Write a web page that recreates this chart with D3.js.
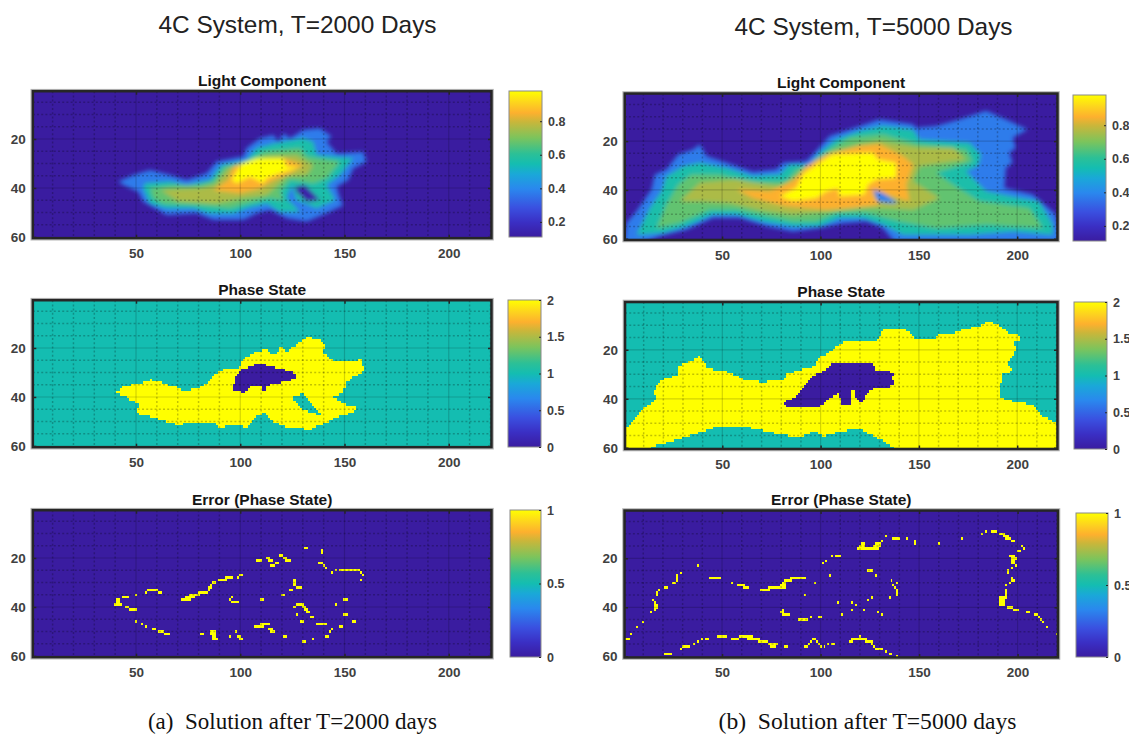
<!DOCTYPE html>
<html>
<head>
<meta charset="utf-8">
<script src="https://d3js.org/d3.v7.min.js"></script>
<style>
  html, body { margin: 0; padding: 0; background: #fff; overflow: hidden; }
  text { font-family: "Liberation Sans", Arial, sans-serif; }
  .tick text { font-size: 13.5px; font-weight: bold; fill: #404040; }
  .cb .tick text { font-size: 12.5px; }
  .tick line { stroke: #262626; stroke-width: 1.5; }
</style>
</head>
<body>
<div id="chart"></div>
<script>
// tick labels
const xTicks = [50, 100, 150, 200];
const yTicks = [20, 40, 60];
const lightTicks = [0.2, 0.4, 0.6, 0.8];
const phaseTicks = [0, 0.5, 1, 1.5, 2];
const errorTicks = [0, 0.5, 1];
const xMinor = [10, 20, 30, 40, 60, 70, 80, 90, 110, 120, 130, 140, 160, 170, 180, 190, 210, 220];
const yMinor = [5, 10, 15, 25, 30, 35, 45, 50, 55];

// parula-ish colormap (position, colour)
const cmapPos = [0, 0.1, 0.2, 0.33, 0.43, 0.5, 0.57, 0.68, 0.79, 0.85, 0.92, 1];
const cmapCol = ["#3a1ca0", "#3a2fc4", "#3a50e0", "#2a88ee", "#1aa8d8", "#14bdb1", "#2cc096", "#7cc45c", "#cab63a", "#fdb02e", "#fdd41e", "#ffff00"];

// Light component: nested contours in data units [col, row], value of each contour
const lightLevels = [0.37, 0.56, 0.67, 0.76, 0.85, 0.98];

const lightA = [
  [[41.5,37.4],[48.7,34.7],[56.7,32.7],[66.3,34.7],[74.3,36.7],[83.9,34],[88.7,29.2],[101.5,27.2],[103,23.8],[109.5,19.7],[115.9,18.4],[118.3,21.1],[120.7,17.7],[123.9,19.7],[130.2,16.3],[138.2,15.6],[143.8,19],[141.4,21.1],[146.2,25.9],[159,25.2],[160.6,29.3],[154.2,32],[151.8,36.7],[146.2,39.5],[147.8,44.2],[149.4,47],[141.4,50.3],[131.9,53.7],[122.3,52.4],[114.3,49],[107.9,50.3],[101.5,53],[93.5,53],[87.1,53],[79.1,50.3],[64.7,51],[53.5,45.6],[51.1,41.5],[43.9,38.8]],
  [[54.3,38.1],[66.3,37.4],[74.3,38.8],[85.5,36.7],[91.1,30.6],[103,28.6],[107.9,23.8],[115.9,21.8],[120.7,21.1],[130.2,19.7],[135,21.1],[136.6,26.5],[154.2,27.9],[147.8,34.7],[141.4,38.8],[145.4,44.9],[136.6,48.3],[127,44.9],[124.6,38.8],[122.3,44.2],[128.6,49.7],[119,49.7],[112.7,46.3],[103,48.3],[96.7,50.3],[85.5,50.3],[77.5,48.3],[64.7,48.3],[56.7,46.3],[53.5,40.1]],
  [[56.7,40.1],[69.5,38.8],[80.7,38.8],[87.1,37.4],[92.7,31.3],[104.7,29.2],[111.1,25.2],[128.6,23.8],[131.9,27.2],[147.8,29.3],[141.4,36],[135,38.1],[123.9,36.7],[119,41.5],[120.7,44.9],[114.3,44.2],[103,46.3],[95.1,48.3],[79.1,46.9],[63.1,46.3],[58.3,44.2]],
  [[62,40.8],[80.7,40.1],[87.9,38.8],[94.3,32],[104.7,30],[112.7,27.2],[127,26.5],[135,30.6],[131.9,34.7],[122.3,35.4],[112.7,42.9],[101.5,44.2],[88.7,46.3],[70,45.4]],
  [[87.1,40.8],[94.3,36.7],[96.7,31.3],[106.3,28.6],[120.7,27.9],[130.2,30.6],[123.9,34],[115.9,36.7],[109.5,40.1],[99.9,42.2]],
  [[95.9,36.7],[98.3,33.3],[100.7,30],[107.9,27.9],[120.7,27.9],[122.3,31.3],[128.6,31.3],[119,34],[112.7,36],[111,38.1],[104.7,35.4],[98.3,38.1]]
];
const lightANotch = [[126.3,39.5],[131,38.8],[138.2,44.9],[131.9,45.6],[127,41.5]];
const lightANotchValue = 0.13;

const lightB = [
  [[-1,62],[0.6,59.7],[1.4,53.5],[6.5,48.7],[14.1,39.8],[15.8,33.7],[21.7,31.6],[27.7,25.5],[35.3,23.4],[38.7,21.3],[42,26.1],[52.2,28.9],[65.7,32.6],[77.6,31.6],[81,28.9],[92.8,28.2],[97.9,24.1],[104.7,17.9],[114.8,15.2],[130,11.1],[147,13.1],[148.6,14.5],[158.8,13.8],[170.6,11.1],[184.2,7.6],[196,11.8],[205.3,15.2],[197.7,18.6],[199.4,22.7],[196,24.8],[197.7,28.9],[194.3,30.9],[193.5,39.2],[207.9,41.9],[219.7,50.1],[222,62],[138.5,62],[131.7,55.6],[123.3,52.9],[111.4,53.6],[99.6,55.6],[86,57],[72.5,54.9],[59,51.5],[45.4,51.5],[31.9,56.3],[18.4,59],[8.2,62]],
  [[6.5,58.3],[13.3,47.4],[19.2,40.5],[21.7,34.4],[30.2,30.3],[38.7,28.9],[52.2,31],[65.7,34.4],[79.3,33.7],[84.3,29.6],[94.5,29.6],[99.6,24.8],[108,19.3],[119.9,15.9],[131.7,13.8],[147,15.2],[150.3,19.3],[175.7,20.7],[181.6,25.5],[180,30.2],[174,32.3],[184.2,40.5],[201.1,43.3],[211.2,44.6],[218,54.2],[218,58.3],[197.7,57],[175.7,58.3],[141.9,58.3],[131.7,54.2],[121.6,51.5],[109.7,51.5],[99.6,54.9],[86,54.9],[70.8,52.9],[57.3,50.1],[45.4,50.1],[31.9,54.9],[20.1,57.6]],
  [[16.7,55.6],[21.7,46],[27.7,37.8],[34.4,33.7],[48.8,33.7],[65.7,37.1],[82.7,36.4],[87.7,31.6],[97.9,29.6],[104.7,23.4],[114.8,18.6],[131.7,17.2],[150.3,21.3],[174,23.4],[177.4,28.2],[158.8,33],[167.3,37.8],[180.8,44.6],[206.2,47.4],[213,55.6],[184.2,54.2],[158.8,55.6],[140.2,52.9],[123.3,49.4],[108,49.4],[97.9,52.9],[86,52.9],[69.1,50.1],[57.3,48.1],[43.7,48.1],[28.5,53.5]],
  [[28.5,44.6],[38.7,37.1],[57.3,35.7],[79.3,38.5],[87.7,34.4],[97.9,30.3],[104.7,24.8],[119.9,21.3],[130,20],[150.3,22.7],[167.3,22.7],[174,27.5],[150.3,30.3],[147,36.4],[160.5,43.3],[147,48.1],[133.4,47.4],[119.9,47.4],[106.3,48.7],[86,50.1],[69.1,48.1],[53.9,45.3],[38.7,44.6]],
  [[57.3,39.8],[74.2,40.5],[86,36.4],[92.8,30.3],[102.9,25.5],[119.9,22],[130,21.3],[141.9,26.1],[147,29.6],[143.6,37.8],[145.3,44.6],[133.4,42],[126.6,42],[130,46],[116.5,47.4],[102.9,48.1],[82.7,46.7],[65.7,43.3]],
  [[79.3,42.6],[87.7,39.2],[91.1,33.7],[99.6,28.9],[106.3,25.5],[126.6,24.8],[129.2,27.5],[138.5,28.9],[138.5,35],[128.3,35.7],[124.1,37.8],[122.4,41.9],[109.7,42.6],[108.9,39.2],[103,40.5],[97.9,43.3],[86,44.4]]
];
const lightBNotch = [[126.6,39.8],[131.7,41.2],[139.3,45.3],[135.1,45.3],[129.2,44.6]];
const lightBNotchValue = 0.38;

// Phase state regions, data units [col, row]
const phaseAYellow = [[39.9,38.2],[44.7,35.5],[51.9,34.4],[56.7,32.8],[61.5,33.8],[66.3,35.1],[71.1,36.5],[72.7,37.6],[79.1,36.5],[83.9,34.4],[88.7,30.3],[93.5,28.3],[99.8,28.3],[101.4,24.9],[106.2,21.9],[110.2,21.5],[112.6,19.7],[115.5,22.9],[117.4,22.2],[119.3,19.5],[122.2,21.5],[127.8,18.1],[131.8,15.6],[138.2,16.7],[141.7,19.7],[139,20.6],[139.8,22.2],[145.4,25.6],[158.2,24.9],[159.8,29.7],[154.2,31.7],[151,33.8],[149.4,38.5],[144.6,40.1],[151,43.3],[156.1,43.7],[155,46],[147.8,48],[138.2,51.4],[132.6,54.2],[130.2,52.8],[122.2,52.1],[115.8,50.1],[112.6,46.7],[107.8,47.4],[103,52.1],[95,51.4],[89.5,52.8],[87.9,50.1],[75.9,50.1],[71.1,51.4],[66.3,50.7],[59.9,48.7],[50.3,46.7],[51.9,42.6],[47.1,41.2],[44.7,39.6]];
const phaseAHole = [[124.9,40.1],[130.2,38.5],[139,47.4],[134.2,46.7],[128.6,44.6]];
const phaseADark = [[99.8,29.3],[107,27],[111.8,26.7],[117.4,28.3],[125.4,29.7],[126.7,32.4],[120.6,33.8],[112.6,35.5],[112.3,37.4],[110.7,37.2],[110.2,35.5],[104.6,35.8],[101.8,38.2],[96.3,37.4],[97.4,32.4]];

const phaseBYellow = [[0,61],[0.5,52.2],[4,50],[7.4,46.4],[10,43.7],[14,41.9],[16.7,39.6],[15.3,37.6],[17.5,34.1],[21,31.4],[27,30.8],[27.7,26.7],[33.6,24.6],[38.3,22.6],[40.4,24.6],[42.4,27.8],[50.5,28.4],[58,30.8],[60.7,32.1],[70,33.2],[81.8,32.1],[82.7,30],[91,28],[97,26.7],[98.7,23.3],[104.7,21.2],[108,18.5],[113,16.5],[129,16],[131.7,11.7],[143.6,11.7],[147.8,15.1],[158,15.5],[159.6,13.3],[169,13],[172.3,11.4],[180,10.6],[185,8.3],[191,10.3],[196,13],[200.3,13.7],[202,15.8],[198.6,17.1],[199.4,19.9],[197.7,23.3],[195.2,25.3],[197.7,28.7],[192.6,30],[191.8,34.8],[191,39.2],[199.4,41.6],[208,42.3],[213,47.1],[221,50.5],[221,61],[139.3,61],[135,58.6],[126.6,55.2],[120,52.2],[111.4,53.2],[101.3,55.2],[96,53.2],[89.4,55.9],[77.6,54.1],[67.4,52.5],[59.8,51.2],[48.8,51.2],[40.4,53.2],[33.6,55],[21.7,57.9],[14,59.5],[12,61]];
const phaseBHole = [];
const phaseBDark = [[81.3,41.6],[86.9,39.2],[91.1,35.5],[94.5,31.4],[103,28],[106.4,25.3],[114,25.3],[118.2,26],[126.6,25.3],[127.5,28],[138.2,29.4],[136,30.7],[138.2,34.8],[134.3,35.1],[125,36.2],[122.4,39.6],[120.7,42.3],[118.2,39.6],[117,36.2],[115.1,36.2],[115.6,42.3],[110.6,43],[109.7,37.6],[104.7,39.6],[99.6,43],[83.5,43.7]];

// Error cells as runs [first col, last col, row]
const errorA = [[40,43,39],[41,42,37],[41,42,38],[44,46,36],[45,46,40],[47,50,41],[50,50,35],[50,50,46],[53,53,47],[55,55,48],[58,59,49],[61,63,50],[64,66,51],[55,55,34],[56,60,33],[61,62,34],[81,82,51],[86,88,50],[86,88,51],[87,88,52],[87,89,53],[95,95,52],[98,98,50],[99,100,52],[100,101,53],
  [72,76,37],[74,78,36],[76,80,35],[80,84,34],[85,85,33],[85,86,32],[86,86,31],[87,88,30],[90,93,29],[93,95,28],[96,96,28],[99,99,28],[100,101,27],[95,95,37],[96,96,36],[96,99,38],[110,111,37],[107,111,48],[110,114,47],[114,115,49],[115,116,50],[121,122,52],
  [108,110,21],[113,114,20],[114,115,21],[115,116,23],[117,118,22],[119,120,19],[121,122,20],[122,124,21],[131,132,16],[139,139,17],[139,139,18],[138,139,22],[140,140,23],[141,141,24],[144,144,26],[146,146,25],[148,157,25],[158,158,26],[159,159,27],[158,158,29],
  [126,126,29],[126,126,30],[126,126,31],[124,125,33],[127,129,32],[120,121,35],[127,130,39],[126,126,40],[130,131,40],[131,132,41],[132,133,42],[134,135,44],[127,127,43],[129,130,46],[137,138,47],[139,141,47],[144,144,49],[143,143,50],[141,142,52],[135,135,53],[130,131,54],[146,146,39],[150,151,37],[150,151,43],[154,155,46],[148,149,48]];

const errorB = [[1,3,53],[4,4,51],[7,7,48],[10,10,46],[14,14,42],[16,16,38],[16,17,39],[16,17,40],[16,16,41],[15,15,37],[17,17,34],[17,17,35],[18,18,33],[21,22,32],[25,26,30],[27,27,27],[27,27,28],[27,27,29],[29,29,26],[38,38,23],[44,49,28],[55,55,30],[58,61,31],[61,63,32],
  [70,74,33],[74,82,32],[80,82,31],[81,82,30],[82,85,29],[85,92,28],[97,97,30],[92,92,35],[105,105,27],[101,101,22],[103,103,21],[106,106,19],[108,110,19],
  [119,129,16],[120,122,15],[121,122,14],[127,130,15],[128,130,14],[131,131,13],[133,133,11],[137,140,12],[144,144,12],[148,148,13],[148,148,14],[160,160,14],[172,172,12],
  [182,182,10],[184,184,9],[187,189,9],[191,193,10],[193,195,11],[194,196,12],[197,198,13],[202,202,15],[203,203,16],[200,201,17],[196,198,19],[197,199,20],[197,198,21],[197,198,22],[199,199,23],[197,197,24],[195,195,25],[195,195,26],[197,197,28],[197,198,29],[196,196,30],[194,194,31],[194,194,33],[194,194,34],[194,194,35],[191,194,36],[191,193,37],[191,193,38],[191,193,39],[195,197,40],[198,200,41],[205,206,42],[209,210,43],[211,211,44],[212,212,45],[213,213,46],[215,215,48],[220,220,51],
  [124,126,25],[128,128,27],[136,136,29],[139,139,30],[137,137,31],[138,138,32],[139,139,33],[139,139,34],[139,139,35],[135,135,36],[126,126,36],[124,124,37],[118,118,39],[116,116,38],[109,109,38],[116,116,41],[122,122,41],[111,111,43],[129,129,42],[131,131,43],
  [81,81,41],[80,81,42],[81,84,43],[89,92,45],[93,93,45],[95,95,44],[99,100,44],
  [48,52,52],[55,58,53],[59,65,52],[63,69,53],[69,73,54],[74,78,55],[75,77,56],[82,83,56],[42,43,53],[40,40,53],[38,38,54],[36,36,55],[30,33,56],[29,29,57],[21,24,59],
  [92,93,56],[94,94,55],[95,95,54],[96,97,53],[98,98,54],[99,99,55],[100,100,56],[102,102,56],[104,104,55],[106,107,55],[115,116,54],[116,123,53],[120,120,52],[123,126,54],[126,126,55],[127,127,56],[128,131,57],[133,133,58],[135,136,59],[139,139,60]];

// build the full page
const svg = d3.select("#chart").append("svg")
  .attr("width", 1129)
  .attr("height", 736);
const defs = svg.append("defs");

defs.append("filter").attr("id", "softLight")
  .attr("x", "-5%").attr("y", "-5%").attr("width", "110%").attr("height", "110%")
  .append("feGaussianBlur").attr("stdDeviation", 1.9);
defs.append("filter").attr("id", "softCell")
  .attr("x", "-2%").attr("y", "-2%").attr("width", "104%").attr("height", "104%")
  .append("feGaussianBlur").attr("stdDeviation", 0.45);

const cmap = d3.scaleLinear().domain(cmapPos).range(cmapCol).clamp(true);

const grad = defs.append("linearGradient").attr("id", "parula")
  .attr("x1", 0).attr("x2", 0).attr("y1", 1).attr("y2", 0);
cmapPos.forEach((p, i) => grad.append("stop").attr("offset", p).attr("stop-color", cmapCol[i]));

const line = d3.line();

function plotBase(i, box, title, titleY) {
  const x = d3.scaleLinear().domain([0.5, 220.5]).range([box.left, box.right]);
  const y = d3.scaleLinear().domain([0.5, 60.5]).range([box.top, box.bottom]);
  const g = svg.append("g");
  defs.append("clipPath").attr("id", "clip" + i).append("rect")
    .attr("x", box.left).attr("y", box.top)
    .attr("width", box.right - box.left).attr("height", box.bottom - box.top);
  const plot = g.append("g").attr("clip-path", `url(#clip${i})`);

  svg.append("text").attr("x", (box.left + box.right) / 2).attr("y", titleY)
    .attr("text-anchor", "middle").style("font-size", "15.5px").style("font-weight", "bold")
    .attr("fill", "#151515").text(title);
  return {x, y, g, plot, box};
}

function finish(p) {
  const {x, y, g, plot, box} = p;
  // grid
  const grid = plot.append("g").attr("fill", "none").attr("stroke", "#000");
  grid.selectAll("line.v").data(xMinor).enter().append("line")
    .attr("x1", d => x(d)).attr("x2", d => x(d)).attr("y1", box.top).attr("y2", box.bottom)
    .attr("stroke-width", 1.5).attr("stroke-opacity", 0.24).attr("stroke-dasharray", "2 2.2");
  grid.selectAll("line.h").data(yMinor).enter().append("line")
    .attr("y1", d => y(d)).attr("y2", d => y(d)).attr("x1", box.left).attr("x2", box.right)
    .attr("stroke-width", 1.5).attr("stroke-opacity", 0.24).attr("stroke-dasharray", "2 2.2");
  grid.selectAll("line.mv").data(xTicks).enter().append("line")
    .attr("x1", d => x(d)).attr("x2", d => x(d)).attr("y1", box.top).attr("y2", box.bottom)
    .attr("stroke-width", 1.2).attr("stroke-opacity", 0.17);
  grid.selectAll("line.mh").data(yTicks.slice(0, 2)).enter().append("line")
    .attr("y1", d => y(d)).attr("y2", d => y(d)).attr("x1", box.left).attr("x2", box.right)
    .attr("stroke-width", 1.2).attr("stroke-opacity", 0.17);

  // axes
  const clean = s => s.select(".domain").remove();
  g.append("g").attr("transform", `translate(0,${box.bottom})`)
    .call(d3.axisBottom(x).tickValues(xTicks).tickSizeInner(-3.5).tickSizeOuter(0).tickPadding(10)).call(clean);
  g.append("g").attr("transform", `translate(0,${box.top})`)
    .call(d3.axisTop(x).tickValues(xTicks).tickSizeInner(-3.5).tickSizeOuter(0).tickFormat("")).call(clean);
  g.append("g").attr("transform", `translate(${box.left},0)`)
    .call(d3.axisLeft(y).tickValues(yTicks).tickSizeInner(-3.5).tickSizeOuter(0).tickPadding(7)).call(clean);
  g.append("g").attr("transform", `translate(${box.right},0)`)
    .call(d3.axisRight(y).tickValues(yTicks).tickSizeInner(-3.5).tickSizeOuter(0).tickFormat("")).call(clean);

  // frame
  g.append("rect").attr("x", box.left - 1.8).attr("y", box.top - 1.8)
    .attr("width", box.right - box.left + 3.6).attr("height", box.bottom - box.top + 3.6)
    .attr("fill", "none").attr("stroke", "#b5b5b5").attr("stroke-width", 1);
  g.append("rect").attr("x", box.left).attr("y", box.top)
    .attr("width", box.right - box.left).attr("height", box.bottom - box.top)
    .attr("fill", "none").attr("stroke", "#262626").attr("stroke-width", 2.6);
}

function colorbar(cb, domain, ticks) {
  const y = d3.scaleLinear().domain(domain).range([cb.bottom, cb.top]);
  const g = svg.append("g").attr("class", "cb");
  g.append("rect").attr("x", cb.left).attr("y", cb.top)
    .attr("width", cb.right - cb.left).attr("height", cb.bottom - cb.top)
    .attr("fill", "url(#parula)").attr("stroke", "#8a8a8a").attr("stroke-width", 1);
  g.append("g").attr("transform", `translate(${cb.right},0)`)
    .call(d3.axisRight(y).tickValues(ticks).tickSizeInner(-2).tickSizeOuter(0).tickPadding(6)
      .tickFormat(d => d3.format("~g")(d)))
    .call(s => s.select(".domain").remove())
    .selectAll("line").attr("stroke", "#777").style("stroke-width", 1);
}

function drawLight(p, contours, levels, notch, notchValue, lo, hi) {
  const {x, y, plot, box} = p;
  const t = d3.scaleLinear().domain([lo, hi]).range([0, 1]);
  plot.append("rect").attr("x", box.left).attr("y", box.top)
    .attr("width", box.right - box.left).attr("height", box.bottom - box.top)
    .attr("fill", cmap(0));
  const blurred = plot.append("g").attr("filter", "url(#softLight)");
  line.x(d => x(d[0])).y(d => y(d[1]));
  blurred.selectAll("path").data(contours).enter().append("path")
    .attr("d", d => line(d) + "Z")
    .attr("fill", (d, i) => cmap(t(levels[i])));
  blurred.append("path").attr("d", line(notch) + "Z").attr("fill", cmap(t(notchValue)));
}

// turn a field of cells into runs per row so the edges stay blocky
function rasterRuns(stateOf) {
  const runs = [];
  d3.range(1, 61).forEach(row => {
    let start = null, cur = null;
    d3.range(1, 222).forEach(col => {
      const s = col <= 220 ? stateOf(col, row) : null;
      if (s !== cur) {
        if (cur !== null && cur !== 1) runs.push({x0: start, x1: col - 1, row, s: cur});
        start = col; cur = s;
      }
    });
  });
  return runs;
}

function drawCells(p, runs, bg, colorOf) {
  const {x, y, plot, box} = p;
  plot.append("rect").attr("x", box.left).attr("y", box.top)
    .attr("width", box.right - box.left).attr("height", box.bottom - box.top)
    .attr("fill", bg);
  plot.append("g").attr("filter", "url(#softCell)").attr("shape-rendering", "crispEdges")
    .selectAll("rect").data(runs).enter().append("rect")
    .attr("x", d => x(d.x0 - 0.5))
    .attr("width", d => x(d.x1 + 0.5) - x(d.x0 - 0.5))
    .attr("y", d => y(d.row - 0.5))
    .attr("height", d => y(d.row + 0.5) - y(d.row - 0.5))
    .attr("fill", colorOf);
}

function phaseRuns(yellow, hole, dark) {
  return rasterRuns((col, row) => {
    const pt = [col, row];
    if (d3.polygonContains(dark, pt)) return 0;
    if (d3.polygonContains(yellow, pt) && !(hole.length && d3.polygonContains(hole, pt))) return 2;
    return 1;
  });
}

const phaseColor = d => cmap(d.s / 2);
const errorRuns = runs => runs.map(r => ({x0: r[0], x1: r[1], row: r[2], s: 1}));

// left column
const a1 = plotBase(1, {left: 32.8, right: 491.5, top: 91.2, bottom: 238.2}, "Light Component", 85.5);
drawLight(a1, lightA, lightLevels, lightANotch, lightANotchValue, 0.11, 0.98);
finish(a1);
colorbar({left: 509, right: 542, top: 91, bottom: 237}, [0.11, 0.98], lightTicks);

const a2 = plotBase(2, {left: 32.8, right: 491.5, top: 300.2, bottom: 447.2}, "Phase State", 294.5);
drawCells(a2, phaseRuns(phaseAYellow, phaseAHole, phaseADark), cmap(0.5), phaseColor);
finish(a2);
colorbar({left: 508, right: 541, top: 300, bottom: 447}, [0, 2], phaseTicks);

const a3 = plotBase(3, {left: 32.8, right: 491.5, top: 510.2, bottom: 657.2}, "Error (Phase State)", 504.5);
drawCells(a3, errorRuns(errorA), cmap(0), () => "#ffff00");
finish(a3);
colorbar({left: 510, right: 541, top: 510, bottom: 657}, [0, 1], errorTicks);

// right column
const b1 = plotBase(4, {left: 624.7, right: 1057.5, top: 93.5, bottom: 240}, "Light Component", 88);
drawLight(b1, lightB, lightLevels, lightBNotch, lightBNotchValue, 0.11, 0.98);
finish(b1);
colorbar({left: 1073, right: 1106, top: 95, bottom: 241}, [0.11, 0.98], lightTicks);

const b2 = plotBase(5, {left: 625, right: 1057.5, top: 302, bottom: 449}, "Phase State", 296.5);
drawCells(b2, phaseRuns(phaseBYellow, phaseBHole, phaseBDark), cmap(0.5), phaseColor);
finish(b2);
colorbar({left: 1074, right: 1107, top: 302, bottom: 449}, [0, 2], phaseTicks);

const b3 = plotBase(6, {left: 624.5, right: 1058, top: 510.5, bottom: 657.5}, "Error (Phase State)", 505);
drawCells(b3, errorRuns(errorB), cmap(0), () => "#ffff00");
finish(b3);
colorbar({left: 1076, right: 1108, top: 513, bottom: 657}, [0, 1], errorTicks);

// figure titles and captions
svg.append("text").attr("x", 297.5).attr("y", 32.5).attr("text-anchor", "middle")
  .style("font-size", "24.4px").attr("fill", "#222").text("4C System, T=2000 Days");
svg.append("text").attr("x", 873.5).attr("y", 34.5).attr("text-anchor", "middle")
  .style("font-size", "24.4px").attr("fill", "#222").text("4C System, T=5000 Days");
svg.append("text").attr("x", 292.5).attr("y", 729).attr("text-anchor", "middle")
  .style("font-family", "'Liberation Serif', serif").style("font-size", "23px").style("white-space", "pre")
  .attr("fill", "#111").text("(a)  Solution after T=2000 days");
svg.append("text").attr("x", 867.5).attr("y", 729).attr("text-anchor", "middle")
  .style("font-family", "'Liberation Serif', serif").style("font-size", "23.6px").style("white-space", "pre")
  .attr("fill", "#111").text("(b)  Solution after T=5000 days");
</script>
</body>
</html>
